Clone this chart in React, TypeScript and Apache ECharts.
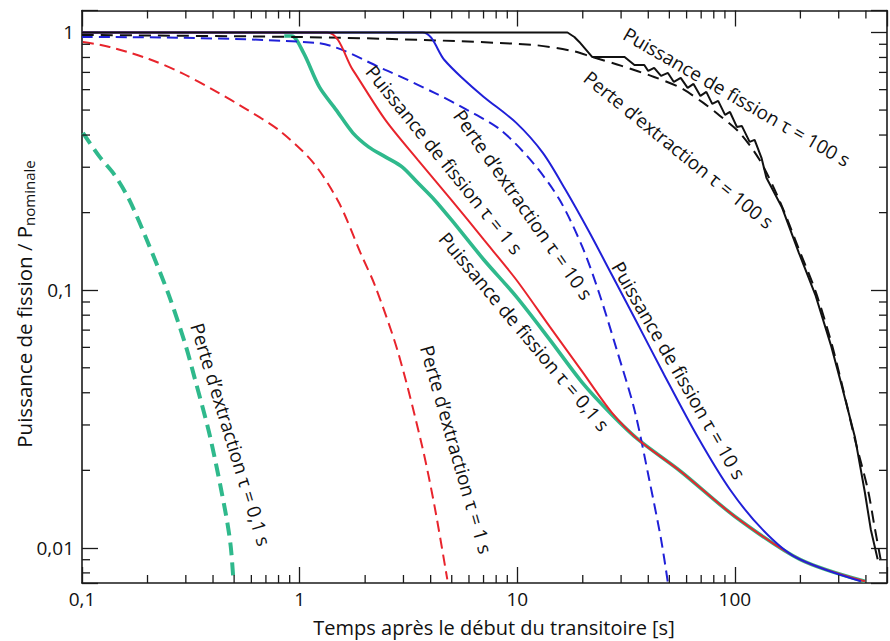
import React, { useEffect, useRef } from "react";
import * as echarts from "echarts";

const FONT = '"Open Sans", "Noto Sans", "DejaVu Sans", sans-serif';

// Axis ranges (log scales)
const X_MIN = 0.1;
const X_MAX = 500;
const Y_MIN = 0.00731;
const Y_MAX = 1.217;

// Perte d'extraction tau = 0,1 s (green dashed)
const pe01X = [0.101, 0.1206, 0.141, 0.165, 0.201, 0.2502, 0.2986, 0.328, 0.3876, 0.4576, 0.4824, 0.497];
const pe01Y = [0.408, 0.329, 0.2804, 0.224, 0.1528, 0.0961, 0.0615, 0.0462, 0.02705, 0.0136, 0.01014, 0.00735];

// Perte d'extraction tau = 1 s (red dashed)
const pe1X = [0.101, 0.1339, 0.203, 0.2864, 0.4084, 0.5757, 0.812, 1.157, 1.517, 1.908, 2.23, 2.835, 3.64, 4.17, 4.77];
const pe1Y = [0.919, 0.879, 0.789, 0.6966, 0.5933, 0.501, 0.415, 0.312, 0.2183, 0.139, 0.1032, 0.0573, 0.0252, 0.01449, 0.00755];

// Perte d'extraction tau = 10 s (blue dashed)
const pe10X = [0.1, 1.194, 2.476, 4.168, 5.877, 8.378, 11.81, 15.65, 19.89, 23.75, 28.64, 34.55, 40.4, 45.8, 49.2];
const pe10Y = [0.961, 0.911, 0.716, 0.583, 0.501, 0.419, 0.312, 0.2243, 0.1475, 0.0978, 0.0588, 0.0344, 0.01842, 0.01079, 0.00735];

// Perte d'extraction tau = 100 s (black dashed)
const pe100X = [0.1, 0.969, 3.755, 11.81, 17.92, 22.08, 30.17, 42.56, 56.38, 71.65, 85.5, 105.3, 129.8, 159.8, 196.8, 235.0, 277.5, 314.6, 356.5, 408.2, 438.9, 467.4];
const pe100Y = [0.978, 0.9606, 0.935, 0.8945, 0.848, 0.8035, 0.7418, 0.6722, 0.6093, 0.533, 0.4746, 0.4078, 0.3205, 0.2243, 0.1442, 0.0987, 0.0626, 0.0411, 0.0263, 0.01685, 0.01201, 0.00903];

// Puissance de fission tau = 0,1 s (green solid)
const pf01X = [0.85, 0.92, 1.0426, 1.2316, 1.471, 1.755, 2.073, 2.476, 2.955, 3.491, 4.168, 4.976, 7.019, 9.897, 14.1, 19.89, 27.2, 36.0, 56.4, 100, 198.9, 395.7];
const pf01Y = [0.969, 0.969, 0.833, 0.615, 0.501, 0.408, 0.36, 0.329, 0.301, 0.261, 0.224, 0.1877, 0.1313, 0.0944, 0.0643, 0.0438, 0.0329, 0.0263, 0.0198, 0.01325, 0.00903, 0.00742];

// Puissance de fission tau = 1 s (red solid)
const pf1X = [0.1, 1.339, 1.755, 2.476, 3.491, 4.976, 7.019, 9.897, 14.1, 19.89, 27.2, 36.0, 56.4, 100, 198.9, 395.7];
const pf1Y = [1.0, 1.0, 0.716, 0.458, 0.3205, 0.2243, 0.157, 0.1098, 0.0722, 0.0483, 0.0335, 0.0263, 0.0198, 0.01325, 0.00903, 0.00742];

// Puissance de fission tau = 10 s (blue solid)
const pf10X = [0.1, 3.678, 4.626, 5.523, 7.019, 9.897, 13.11, 16.66, 21.39, 27.2, 34.55, 47.23, 67.3, 94.93, 133.8, 190.8, 379.5];
const pf10Y = [1.0, 1.0, 0.782, 0.672, 0.5623, 0.4459, 0.341, 0.2452, 0.1685, 0.1148, 0.0782, 0.0471, 0.02705, 0.01685, 0.0118, 0.00919, 0.00742];

// Puissance de fission tau = 100 s (black solid)
const pf100X = [0.1, 17.01, 18.3, 19.28, 22.08, 31.13, 34.55, 38.34, 39.98, 42.56, 45.78, 49.24, 52.43, 56.38, 60.65, 64.56, 69.44, 73.92, 78.68, 83.78, 90.12, 94.93, 102.1, 107.6, 116.9, 123.2, 132.5, 139.6, 164.9, 196.8, 235.0, 277.5, 308.1, 356.5, 395.7, 421.2, 453.0];
const pf100Y = [1.0, 1.0, 0.9606, 0.9188, 0.8035, 0.8035, 0.748, 0.748, 0.709, 0.7286, 0.6783, 0.6966, 0.6428, 0.6662, 0.6093, 0.6317, 0.5672, 0.588, 0.5283, 0.5428, 0.4788, 0.4916, 0.4301, 0.434, 0.3763, 0.3831, 0.3264, 0.2729, 0.2088, 0.1397, 0.0952, 0.0604, 0.0434, 0.0268, 0.01641, 0.0118, 0.00903];

// Minor tick values
const xMinor = [0.2, 0.3, 0.4, 0.5, 0.6, 0.7, 0.8, 0.9, 2, 3, 4, 5, 6, 7, 8, 9, 20, 30, 40, 50, 60, 70, 80, 90, 200, 300, 400];
const yMinor = [0.008, 0.009, 0.02, 0.03, 0.04, 0.05, 0.06, 0.07, 0.08, 0.09, 0.2, 0.3, 0.4, 0.5, 0.6, 0.7, 0.8, 0.9];

// Curve annotations: text, position (data), rotation (deg)
const annText = [
  "Puissance de fission \u03c4 = 100 s",
  "Perte d\u2019extraction \u03c4 = 100 s",
  "Puissance de fission \u03c4 = 1 s",
  "Perte d\u2019extraction \u03c4 = 10 s",
  "Puissance de fission \u03c4 = 0,1 s",
  "Puissance de fission \u03c4 = 10 s",
  "Perte d\u2019extraction \u03c4 = 1 s",
  "Perte d\u2019extraction \u03c4 = 0,1 s",
];
const annX = [102, 55.2, 4.62, 10.64, 10.76, 55.2, 5.24, 0.482];
const annY = [0.5623, 0.3504, 0.3205, 0.2145, 0.069, 0.0488, 0.0241, 0.02754];
const annRot = [-30, -39, -51, -55, -50, -60, -74, -73];

const GREEN = "#2fb98c";
const RED = "#e8242c";
const BLUE = "#2020d8";
const BLACK = "#111111";

const zip = (xs: number[], ys: number[]) => xs.map((x, i) => [x, ys[i]]);

const fmt = (v: number) => {
  const l = Math.log10(v);
  if (Math.abs(l - Math.round(l)) > 1e-6) return "";
  return String(+v.toPrecision(6)).replace(".", ",");
};

export default function App() {
  const ref = useRef<HTMLDivElement>(null);
  useEffect(() => {
    if (!ref.current) return;
    const chart = echarts.init(ref.current, undefined, { renderer: "svg" });
    const axisLine = { show: true, lineStyle: { color: "#1a1a1a", width: 1.6 } };
    const tick = { show: true, inside: true, length: 16, lineStyle: { color: "#1a1a1a", width: 1.3 } };
    const lineSeries = (name: string, xs: number[], ys: number[], color: string, width: number, dashed: number[] | null, smooth: number | boolean, z: number) => ({
      type: "line",
      name,
      data: zip(xs, ys),
      showSymbol: false,
      symbol: "none",
      smooth,
      silent: true,
      lineStyle: { color, width, type: dashed ? dashed : "solid" },
      z,
    });
    const tickData = [
      ...xMinor.map((v) => [v, 0.1, 0]),
      ...yMinor.map((v) => [1, v, 1]),
    ];
    const option: any = {
      animation: false,
      backgroundColor: "#ffffff",
      grid: { left: 82, top: 10.5, right: -9, bottom: 58, containLabel: false },
      xAxis: [
        {
          type: "log",
          min: X_MIN,
          max: X_MAX,
          logBase: 10,
          axisLine,
          axisTick: tick,
          splitLine: { show: false },
          axisLabel: { formatter: fmt, color: BLACK, fontSize: 19, fontFamily: FONT, margin: 6 },
        },
        {
          type: "log",
          position: "top",
          min: X_MIN,
          max: X_MAX,
          logBase: 10,
          axisLine,
          axisTick: tick,
          splitLine: { show: false },
          axisLabel: { show: false },
        },
      ],
      yAxis: [
        {
          type: "log",
          min: Y_MIN,
          max: Y_MAX,
          logBase: 10,
          axisLine,
          axisTick: tick,
          splitLine: { show: false },
          axisLabel: { formatter: fmt, color: BLACK, fontSize: 19, fontFamily: FONT, margin: 8 },
        },
        {
          type: "log",
          position: "right",
          min: Y_MIN,
          max: Y_MAX,
          logBase: 10,
          axisLine,
          axisTick: tick,
          splitLine: { show: false },
          axisLabel: { show: false },
        },
      ],
      graphic: [
        {
          type: "text",
          x: 494,
          y: 627,
          style: {
            text: "Temps apr\u00e8s le d\u00e9but du transitoire [s]",
            fontSize: 20,
            fontFamily: FONT,
            fill: BLACK,
            align: "center",
            verticalAlign: "middle",
          },
        },
        {
          type: "text",
          x: 24,
          y: 304,
          rotation: Math.PI / 2,
          style: {
            text: "{a|Puissance de fission / P}{b|nominale}",
            align: "center",
            verticalAlign: "middle",
            fill: BLACK,
            rich: {
              a: { fontSize: 20.5, fontFamily: FONT, fill: BLACK, lineHeight: 26 },
              b: { fontSize: 15, fontFamily: FONT, fill: BLACK, padding: [10, 0, 0, 0], lineHeight: 26 },
            },
          },
        },
      ],
      series: [
        lineSeries("pf01", pf01X, pf01Y, GREEN, 3.6, null, 0.3, 2),
        lineSeries("pe100", pe100X, pe100Y, BLACK, 2, [12, 7], 0.3, 3),
        lineSeries("pe10", pe10X, pe10Y, BLUE, 2, [11, 6], 0.3, 3),
        lineSeries("pe1", pe1X, pe1Y, RED, 2, [11, 6], 0.3, 3),
        lineSeries("pe01", pe01X, pe01Y, GREEN, 4, [13, 7], 0.3, 3),
        lineSeries("pf1", pf1X, pf1Y, RED, 2, null, 0.3, 3),
        lineSeries("pf10", pf10X, pf10Y, BLUE, 2, null, 0.3, 3),
        lineSeries("pf100", pf100X, pf100Y, BLACK, 2, null, false, 4),
        {
          type: "custom",
          silent: true,
          clip: false,
          z: 5,
          encode: { x: 0, y: 1 },
          data: tickData,
          renderItem: (params: any, api: any) => {
            const cs = params.coordSys;
            const kind = api.value(2);
            const len = 8;
            const st = { stroke: "#1a1a1a", lineWidth: 1.3 };
            if (kind === 0) {
              const p = api.coord([api.value(0), 0.1]);
              const x = p[0];
              const yb = cs.y + cs.height;
              return {
                type: "group",
                children: [
                  { type: "line", shape: { x1: x, y1: yb, x2: x, y2: yb - len }, style: st },
                  { type: "line", shape: { x1: x, y1: cs.y, x2: x, y2: cs.y + len }, style: st },
                ],
              };
            }
            const p = api.coord([1, api.value(1)]);
            const y = p[1];
            const xr = cs.x + cs.width;
            return {
              type: "group",
              children: [
                { type: "line", shape: { x1: cs.x, y1: y, x2: cs.x + len, y2: y }, style: st },
                { type: "line", shape: { x1: xr, y1: y, x2: xr - len, y2: y }, style: st },
              ],
            };
          },
        },
        {
          type: "custom",
          silent: true,
          clip: false,
          z: 6,
          encode: { x: 0, y: 1 },
          data: annX.map((x, i) => [x, annY[i], i]),
          renderItem: (params: any, api: any) => {
            const i = api.value(2);
            const p = api.coord([api.value(0), api.value(1)]);
            return {
              type: "text",
              x: p[0],
              y: p[1],
              rotation: (annRot[i] * Math.PI) / 180,
              style: {
                text: annText[i],
                fill: "#111111",
                fontSize: 19,
                fontFamily: FONT,
                align: "center",
                verticalAlign: "middle",
              },
            };
          },
        },
      ],
    };
    chart.setOption(option);
    return () => chart.dispose();
  }, []);
  return (
    <div
      ref={ref}
      style={{ position: "fixed", left: 0, top: 0, width: 890, height: 641, background: "#fff" }}
    />
  );
}
